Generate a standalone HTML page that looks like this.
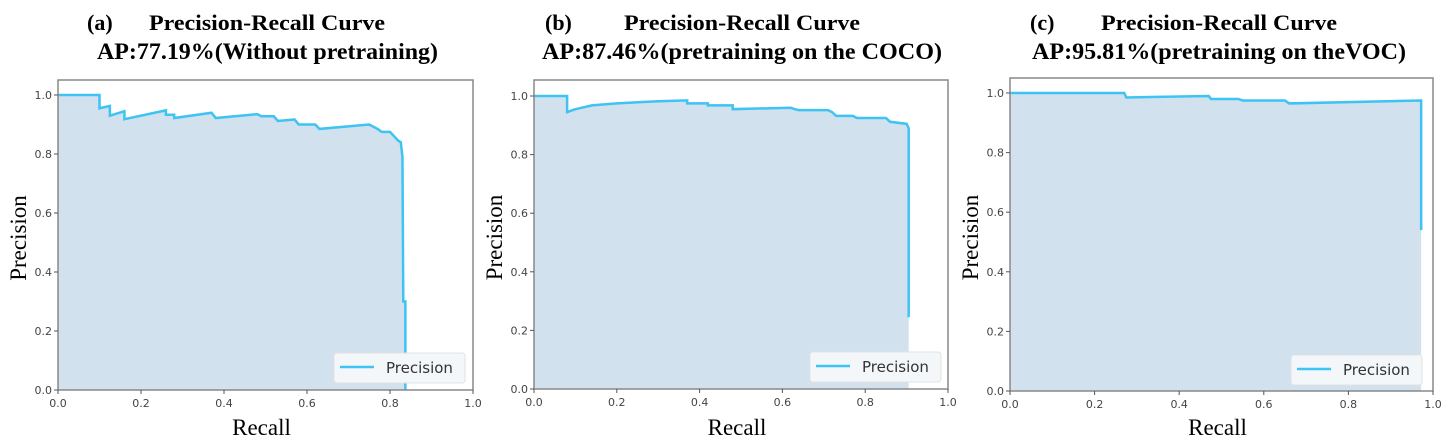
<!DOCTYPE html>
<html><head><meta charset="utf-8"><style>
body{margin:0;background:#fff;width:1444px;height:443px;overflow:hidden}
svg{display:block}
</style></head><body>
<svg id="fig" width="1444" height="443"></svg>
<script>
const ticksLabels = ["0.0","0.2","0.4","0.6","0.8","1.0"];
const tickValues = [0,0.2,0.4,0.6,0.8,1.0];
const recallA = [0,0.10,0.10,0.125,0.125,0.16,0.16,0.26,0.26,0.28,0.28,0.37,0.38,0.48,0.49,0.52,0.53,0.57,0.58,0.62,0.63,0.75,0.77,0.78,0.80,0.81,0.82,0.826,0.83,0.832,0.837,0.837];
const precA = [1.0,1.0,0.955,0.963,0.93,0.945,0.918,0.948,0.933,0.933,0.922,0.94,0.922,0.935,0.928,0.928,0.912,0.917,0.90,0.90,0.885,0.90,0.885,0.875,0.875,0.86,0.845,0.84,0.79,0.30,0.30,0.0];
const recallB = [0,0.08,0.08,0.10,0.14,0.2,0.3,0.37,0.37,0.42,0.42,0.48,0.48,0.62,0.63,0.64,0.71,0.72,0.73,0.77,0.78,0.85,0.86,0.9,0.905,0.905];
const precB = [1.0,1.0,0.945,0.955,0.968,0.975,0.982,0.985,0.975,0.975,0.968,0.968,0.955,0.96,0.955,0.952,0.952,0.945,0.932,0.932,0.925,0.925,0.912,0.905,0.89,0.245];
const recallC = [0,0.27,0.275,0.47,0.475,0.54,0.55,0.65,0.66,0.97,0.972,0.972];
const precC = [1.0,1.0,0.985,0.99,0.98,0.98,0.975,0.975,0.965,0.975,0.975,0.54];
const panels = [
 {id:"a",x0:58,x1:473,top:80,bot:390,y1:95,r:recallA,p:precA,lbl:"(a)",lx:87,tx:149,l2:"AP:77.19%(Without pretraining)",l2x:97,l2w:341,leg:[334,353]},
 {id:"b",x0:534,x1:948,top:80,bot:389,y1:96,r:recallB,p:precB,lbl:"(b)",lx:545,tx:624,l2:"AP:87.46%(pretraining on the COCO)",l2x:542,l2w:400,leg:[810,352]},
 {id:"c",x0:1010,x1:1433,top:78,bot:391,y1:93,r:recallC,p:precC,lbl:"(c)",lx:1030,tx:1101,l2:"AP:95.81%(pretraining on theVOC)",l2x:1032,l2w:374,leg:[1291,355]}
];
const NS="http://www.w3.org/2000/svg";
const svg=document.getElementById('fig');
function mk(t,a,parent){const e=document.createElementNS(NS,t);for(const k in a)e.setAttribute(k,a[k]);(parent||svg).appendChild(e);return e;}
panels.forEach(P=>{
 const g=mk('g',{});
 
 
 const X=v=>P.x0+v*(P.x1-P.x0);
 const Y=v=>P.bot-v*(P.bot-P.y1);
 let pts=P.r.map((r,i)=>X(r)+','+Y(P.p[i]));
 const area=mk('polygon',{points:pts.join(' ')+' '+X(P.r[P.r.length-1])+','+P.bot+' '+X(0)+','+P.bot,fill:'#d1e1ee'},g);
 
 
 const line=mk('polyline',{points:pts.join(' '),fill:'none',stroke:'#3ec3f3','stroke-width':2.5},g);
 
 
 const fr=mk('rect',{x:P.x0,y:P.top,width:P.x1-P.x0,height:P.bot-P.top,fill:'none',stroke:'#888','stroke-width':1.5},g);
 
 
 tickValues.forEach((v,i)=>{
  mk('line',{x1:X(v),x2:X(v),y1:P.bot,y2:P.bot+4,stroke:'#555'},g);
  const tx=mk('text',{x:X(v),y:P.bot+17,'text-anchor':'middle','font-family':'DejaVu Sans, sans-serif','font-size':11,fill:'#444'},g);
  tx.textContent=ticksLabels[i];
  
  
  mk('line',{x1:P.x0-4,x2:P.x0,y1:Y(v),y2:Y(v),stroke:'#555'},g);
  const ty=mk('text',{x:P.x0-6,y:Y(v)+4,'text-anchor':'end','font-family':'DejaVu Sans, sans-serif','font-size':11,fill:'#444'},g);
  ty.textContent=ticksLabels[i];
  
  
 });
 const lg=mk('g',{},g);
 
 
 mk('rect',{x:P.leg[0],y:P.leg[1],width:131,height:30,rx:3,fill:'#f4f7fa',stroke:'#e2e2e2'},lg);
 mk('line',{x1:P.leg[0]+6,x2:P.leg[0]+40,y1:P.leg[1]+14,y2:P.leg[1]+14,stroke:'#3ec3f3','stroke-width':2.5},lg);
 const lt=mk('text',{x:P.leg[0]+52,y:P.leg[1]+20,'font-family':'DejaVu Sans, sans-serif','font-size':15,fill:'#333'},lg);
 lt.textContent='Precision';
 const xl=mk('text',{x:(P.x0+P.x1)/2-4,y:435,'text-anchor':'middle','font-family':'Liberation Serif, serif','font-size':23,fill:'#000'},g);
 xl.textContent='Recall';
 
 
 const yl=mk('text',{x:0,y:0,'text-anchor':'middle','font-family':'Liberation Serif, serif','font-size':23,fill:'#000',transform:`translate(${P.x0-32},${(P.top+P.bot)/2+3}) rotate(-90)`},g);
 yl.textContent='Precision';
 
 
 const t1=mk('text',{x:P.lx,y:30,'font-family':'Liberation Serif, serif','font-weight':'bold','font-size':22},g);
 t1.textContent=P.lbl;
 
 
 const t2=mk('text',{x:P.tx,y:30,'font-family':'Liberation Serif, serif','font-weight':'bold','font-size':22,textLength:236,lengthAdjust:'spacingAndGlyphs'},g);
 t2.textContent='Precision-Recall Curve';
 
 
 const t3=mk('text',{x:P.l2x,y:59,'font-family':'Liberation Serif, serif','font-weight':'bold','font-size':23,textLength:P.l2w,lengthAdjust:'spacingAndGlyphs'},g);
 t3.textContent=P.l2;
 
 
});
</script>
</body></html>
